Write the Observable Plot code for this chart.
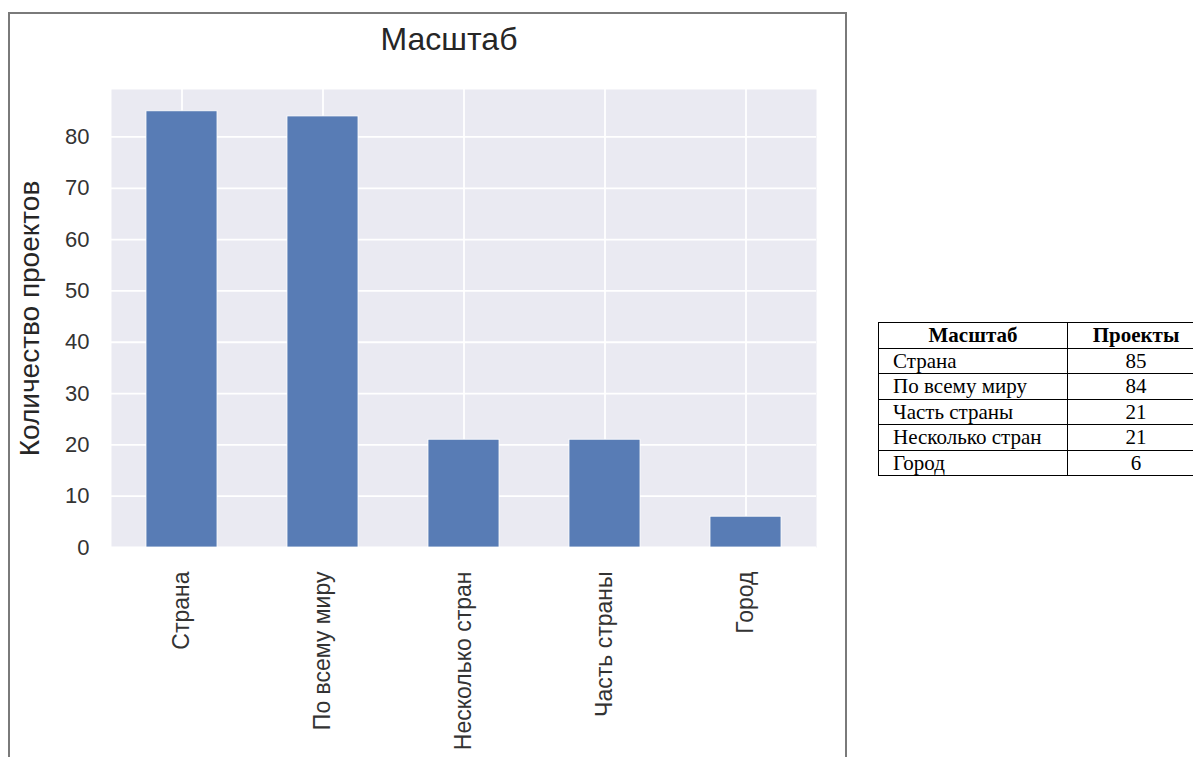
<!DOCTYPE html>
<html>
<head>
<meta charset="utf-8">
<script src="https://cdn.jsdelivr.net/npm/d3@7"></script>
<script src="https://cdn.jsdelivr.net/npm/@observablehq/plot@0.6"></script>
<style>
  html, body { margin: 0; padding: 0; background: #fff; width: 1193px; height: 757px; overflow: hidden; position: relative; }
  #box { position: absolute; left: 8px; top: 12px; width: 835px; height: 800px; border: 2px solid #7a7a7a; box-sizing: content-box; }
  #title { position: absolute; left: 0; width: 898px; top: 23px; text-align: center; font-family: "Liberation Sans", Arial, sans-serif; font-size: 32px; line-height: 32px; color: #262626; }
  #chart { position: absolute; left: 0; top: 75px; }
  #tbl { position: absolute; left: 878px; top: 322px; width: 326px; table-layout: fixed; border-collapse: collapse; font-family: "Liberation Serif", "Times New Roman", serif; font-size: 21px; color: #000; }
  #tbl td, #tbl th { border: 1.5px solid #000; height: 24.5px; padding: 0; line-height: 22px; white-space: nowrap; }
  #tbl th { font-weight: bold; text-align: center; }
  #tbl td.c1 { text-align: left; padding-left: 14px; }
  #tbl td.c2 { text-align: center; }
</style>
</head>
<body>
<div id="box"></div>
<div id="title">Масштаб</div>
<div id="chart"></div>
<table id="tbl"><colgroup><col style="width:189px"><col style="width:137px"></colgroup></table>
<script>
// Chart data (bar order as drawn)
const categories = ["Страна", "По всему миру", "Несколько стран", "Часть страны", "Город"];
const projects = [85, 84, 21, 21, 6];
const yTicks = [0, 10, 20, 30, 40, 50, 60, 70, 80];

// Table data (order as in the table)
const tableHeader = ["Масштаб", "Проекты"];
const tableCategories = ["Страна", "По всему миру", "Часть страны", "Несколько стран", "Город"];
const tableValues = [85, 84, 21, 21, 6];

const data = categories.map((c, i) => ({category: c, value: projects[i]}));

const font = "'Liberation Sans', Arial, sans-serif";

const chart = Plot.plot({
  width: 845,
  height: 682,
  marginLeft: 111,
  marginRight: 29,
  marginTop: 14,
  marginBottom: 210,
  style: {fontFamily: font, background: "transparent", overflow: "visible"},
  x: {domain: categories, paddingInner: 0.5, paddingOuter: 0.25, align: 0.5, label: null},
  y: {domain: [0, 89.25], label: null},
  marks: [
    Plot.frame({fill: "#eaeaf2", stroke: null}),
    Plot.gridY(yTicks, {stroke: "#ffffff", strokeOpacity: 1, strokeWidth: 1.8}),
    Plot.gridX(categories, {stroke: "#ffffff", strokeOpacity: 1, strokeWidth: 1.8}),
    Plot.barY(data, {x: "category", y: "value", fill: "#587cb5", stroke: "#ffffff", strokeWidth: 0.8}),
    Plot.axisY({ticks: yTicks, tickSize: 0, tickPadding: 22, fontSize: 22, fill: "#333333",
      label: "Количество проектов", labelAnchor: "center", labelOffset: 92, labelArrow: "none"}),
    Plot.axisX({tickSize: 0, tickPadding: 24, tickRotate: -90, fontSize: 23, fill: "#333333", label: null})
  ]
});
document.getElementById("chart").appendChild(chart);

// style the y label
chart.querySelectorAll("g[aria-label='y-axis label']").forEach(g => {
  g.setAttribute("font-size", 28);
  g.querySelectorAll("text").forEach(t => { t.setAttribute("font-size", 28); t.style.fontSize = "28px"; t.setAttribute("fill", "#262626"); });
});

// build the table
const tbl = document.getElementById("tbl");
const hr = document.createElement("tr");
tableHeader.forEach(h => {
  const th = document.createElement("th");
  th.textContent = h;
  hr.appendChild(th);
});
tbl.appendChild(hr);
tableCategories.forEach((c, i) => {
  const tr = document.createElement("tr");
  const a = document.createElement("td"); a.className = "c1"; a.textContent = c;
  const b = document.createElement("td"); b.className = "c2"; b.textContent = tableValues[i];
  tr.appendChild(a); tr.appendChild(b);
  tbl.appendChild(tr);
});
</script>
</body>
</html>
